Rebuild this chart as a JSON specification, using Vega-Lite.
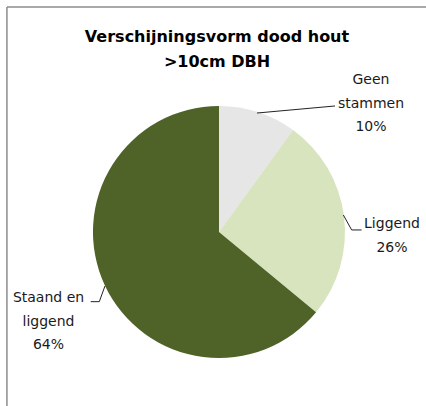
{
  "$schema": "https://vega.github.io/schema/vega-lite/v6.json",
  "width": 426,
  "height": 406,
  "autosize": "none",
  "padding": 0,
  "background": "white",
  "config": {"view": {"stroke": null}},
  "title": {
    "text": ["Verschijningsvorm dood hout", ">10cm DBH"],
    "anchor": "middle",
    "frame": "group",
    "offset": -70,
    "fontSize": 16,
    "font": "DejaVu Sans",
    "fontWeight": "bold",
    "color": "#000000",
    "lineHeight": 25,
    "dx": 4
  },
  "datasets": {
    "slices": [
      {"cat": "Geen stammen", "share": 10, "ord": 1},
      {"cat": "Liggend", "share": 26, "ord": 2},
      {"cat": "Staand en liggend", "share": 64, "ord": 3}
    ],
    "labels": [
      {"txt": "Geen\nstammen\n10%", "lx": 1.206, "ly": 1.206},
      {"txt": "Liggend\n26%", "lx": 1.373, "ly": 0.063},
      {"txt": "Staand en\nliggend\n64%", "lx": -1.353, "ly": -0.524}
    ],
    "leaders": [
      {"grp": "Geen", "seq": 1, "lx": 0.302, "ly": 0.944},
      {"grp": "Geen", "seq": 2, "lx": 0.921, "ly": 1.0},
      {"grp": "Liggend", "seq": 1, "lx": 0.987, "ly": 0.135},
      {"grp": "Liggend", "seq": 2, "lx": 1.053, "ly": 0.016},
      {"grp": "Liggend", "seq": 3, "lx": 1.132, "ly": 0.016},
      {"grp": "Staand", "seq": 1, "lx": -0.905, "ly": -0.429},
      {"grp": "Staand", "seq": 2, "lx": -0.95, "ly": -0.553},
      {"grp": "Staand", "seq": 3, "lx": -1.018, "ly": -0.553}
    ],
    "frame": [
      {"fx": -1.683, "fy": 1.786, "fx2": -1.683, "fy2": -1.381},
      {"fx": -1.683, "fy": 1.786, "fx2": 1.643, "fy2": 1.786}
    ]
  },
  "layer": [
    {
      "data": {"name": "frame"},
      "mark": {"type": "rule", "color": "#8c8c8c", "strokeWidth": 1.5},
      "encoding": {
        "x": {"field": "fx", "type": "quantitative", "scale": {"domain": [-1.738, 1.643], "nice": false, "zero": false}, "axis": null},
        "y": {"field": "fy", "type": "quantitative", "scale": {"domain": [-1.381, 1.841], "nice": false, "zero": false}, "axis": null},
        "x2": {"field": "fx2"},
        "y2": {"field": "fy2"}
      }
    },
    {
      "data": {"name": "slices"},
      "mark": {"type": "arc", "outerRadius": 126},
      "encoding": {
        "theta": {"field": "share", "type": "quantitative", "stack": true},
        "order": {"field": "ord", "type": "quantitative"},
        "color": {
          "field": "cat",
          "type": "nominal",
          "scale": {"domain": ["Geen stammen", "Liggend", "Staand en liggend"], "range": ["#e6e6e6", "#d7e4bd", "#4f6228"]},
          "legend": null
        },
        "x": {"datum": 0, "type": "quantitative", "scale": {"domain": [-1.738, 1.643], "nice": false, "zero": false}, "axis": null},
        "y": {"datum": 0, "type": "quantitative", "scale": {"domain": [-1.381, 1.841], "nice": false, "zero": false}, "axis": null}
      }
    },
    {
      "data": {"name": "leaders"},
      "mark": {"type": "line", "color": "#222222", "strokeWidth": 1},
      "encoding": {
        "x": {"field": "lx", "type": "quantitative", "scale": {"domain": [-1.738, 1.643], "nice": false, "zero": false}, "axis": null},
        "y": {"field": "ly", "type": "quantitative", "scale": {"domain": [-1.381, 1.841], "nice": false, "zero": false}, "axis": null},
        "detail": {"field": "grp", "type": "nominal"},
        "order": {"field": "seq", "type": "quantitative"}
      }
    },
    {
      "data": {"name": "labels"},
      "mark": {"type": "text", "lineBreak": "\n", "font": "DejaVu Sans", "fontSize": 14, "color": "#1a1a1a", "align": "center", "baseline": "middle", "lineHeight": 23.5},
      "encoding": {
        "x": {"field": "lx", "type": "quantitative", "scale": {"domain": [-1.738, 1.643], "nice": false, "zero": false}, "axis": null},
        "y": {"field": "ly", "type": "quantitative", "scale": {"domain": [-1.381, 1.841], "nice": false, "zero": false}, "axis": null},
        "text": {"field": "txt", "type": "nominal"}
      }
    }
  ]
}
